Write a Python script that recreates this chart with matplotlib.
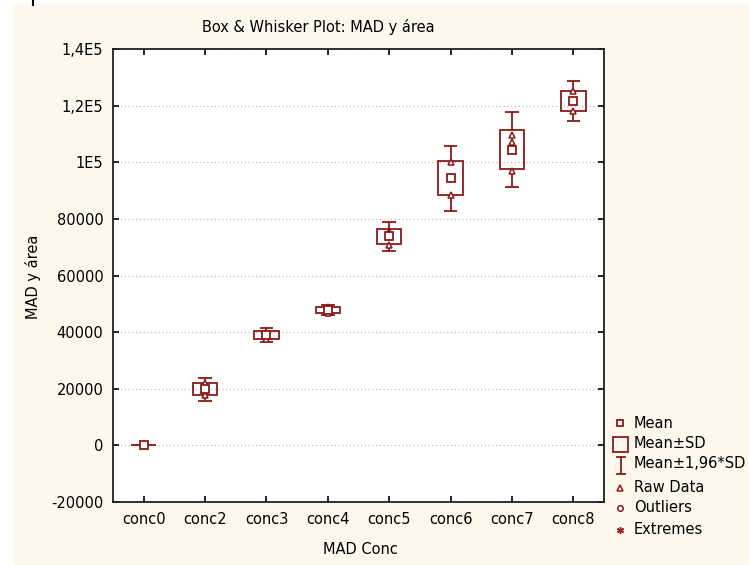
import numpy as np
import matplotlib
matplotlib.use('Agg')
from matplotlib import pyplot as plt
from matplotlib.patches import Rectangle

plt.rcParams['font.family'] = ['DejaVu Sans']
plt.rcParams['font.size'] = 10.5

# raw measurements per concentration level
categories = ['conc0', 'conc2', 'conc3', 'conc4', 'conc5', 'conc6', 'conc7', 'conc8']
raw_conc0 = [0, 0, 0]
raw_conc2 = [22000, 17800, 19600]
raw_conc3 = [40200, 37600, 39200]
raw_conc4 = [48700, 46900, 47800]
raw_conc5 = [75600, 70800, 75000]
raw_conc6 = [100000, 88300, 94900]
raw_conc7 = [109500, 107150, 96750]
raw_conc8 = [125300, 121700, 118100]
raw_data = [raw_conc0, raw_conc2, raw_conc3, raw_conc4,
            raw_conc5, raw_conc6, raw_conc7, raw_conc8]

ytick_values = [-20000, 0, 20000, 40000, 60000, 80000, 100000, 120000, 140000]
ytick_labels = ['-20000', '0', '20000', '40000', '60000', '80000', '1E5', '1,2E5', '1,4E5']

red = '#8b1a1a'
cream = '#fef8ec'
fs = 10.5

means = np.array([np.mean(r) for r in raw_data])
sds = np.array([np.std(r, ddof=1) for r in raw_data])
x = np.arange(len(categories))

W, H = 749, 565
fig = plt.figure(figsize=(W / 100, H / 100), dpi=100, facecolor='white')
fig.patches.append(Rectangle((13 / W, 0), 1 - 13 / W, 1 - 5 / H,
                             transform=fig.transFigure, color=cream, zorder=-10))
fig.add_artist(plt.Line2D([33 / W, 33 / W], [1 - 5 / H, 1], color='black', lw=1.5))

ax = fig.add_axes([113 / W, 1 - 502 / H, (604 - 113) / W, (502 - 49) / H])
ax.set_facecolor('white')

# mean +/- SD boxes
box_w = 0.4
ax.bar(x, 2 * sds, bottom=means - sds, width=box_w, fill=False,
       edgecolor=red, linewidth=1.3, zorder=3)

# whiskers at mean +/- 1.96*SD
cap_w = 0.22
lo, hi = means - 1.96 * sds, means + 1.96 * sds
ax.vlines(x, means + sds, hi, color=red, lw=1.3, zorder=3)
ax.vlines(x, lo, means - sds, color=red, lw=1.3, zorder=3)
ax.hlines(hi, x - cap_w / 2, x + cap_w / 2, color=red, lw=1.3, zorder=3)
ax.hlines(lo, x - cap_w / 2, x + cap_w / 2, color=red, lw=1.3, zorder=3)

# raw points and means
for i, r in enumerate(raw_data):
    ax.plot([x[i]] * len(r), r, linestyle='none', marker='^', ms=4.5,
            mfc='white', mec=red, mew=1.1, zorder=4)
ax.plot(x, means, linestyle='none', marker='s', ms=5.5, mfc='white',
        mec=red, mew=1.3, zorder=5)

ax.set_xlim(-0.5, len(categories) - 0.5)
ax.set_ylim(-20000, 140000)
ax.set_xticks(x)
ax.set_xticklabels(categories)
ax.set_yticks(ytick_values)
ax.set_yticklabels(ytick_labels)
ax.tick_params(direction='in', length=4, width=1.2, top=True, right=True,
               labelsize=fs, pad=7)
ax.yaxis.grid(True, linestyle=(0, (1, 2)), color='#b8b8b8', lw=0.9)
ax.set_axisbelow(True)
for s in ax.spines.values():
    s.set_linewidth(1.3)
    s.set_color('#202020')

fig.text(318 / W, 1 - 27 / H, 'Box & Whisker Plot: MAD y área',
         ha='center', va='center', fontsize=fs)
fig.text(33 / W, 1 - 277 / H, 'MAD y área', rotation=90,
         ha='center', va='center', fontsize=fs)
fig.text(360 / W, 1 - 550 / H, 'MAD Conc', ha='center', va='center', fontsize=fs)

# legend drawn in pixel coordinates
lg = fig.add_axes([0, 0, 1, 1], facecolor='none')
lg.set_xlim(0, W)
lg.set_ylim(H, 0)
lg.axis('off')
lg.plot(620, 423, marker='s', ms=4.5, mfc='white', mec=red, mew=1.3)
lg.add_patch(Rectangle((613, 437), 15, 15, fill=False, edgecolor=red, lw=1.3))
lg.plot([621, 621], [457, 474], color=red, lw=1.3)
lg.plot([617, 625], [457, 457], color=red, lw=1.3)
lg.plot([617, 625], [474, 474], color=red, lw=1.3)
lg.plot(620, 488, marker='^', ms=4, mfc='white', mec=red, mew=1.1)
lg.plot(620, 508, marker='o', ms=4, mfc='white', mec=red, mew=1.1)
lg.plot(620, 530, marker=(6, 2, 0), ms=5, color=red, mew=1.0)
legend_labels = ['Mean', 'Mean±SD', 'Mean±1,96*SD', 'Raw Data', 'Outliers', 'Extremes']
legend_y = [423, 444, 464, 487, 508, 530]
for lab, yy in zip(legend_labels, legend_y):
    lg.text(634, yy, lab, ha='left', va='center', fontsize=fs)

fig.savefig('out.png', dpi=100, facecolor=fig.get_facecolor())
